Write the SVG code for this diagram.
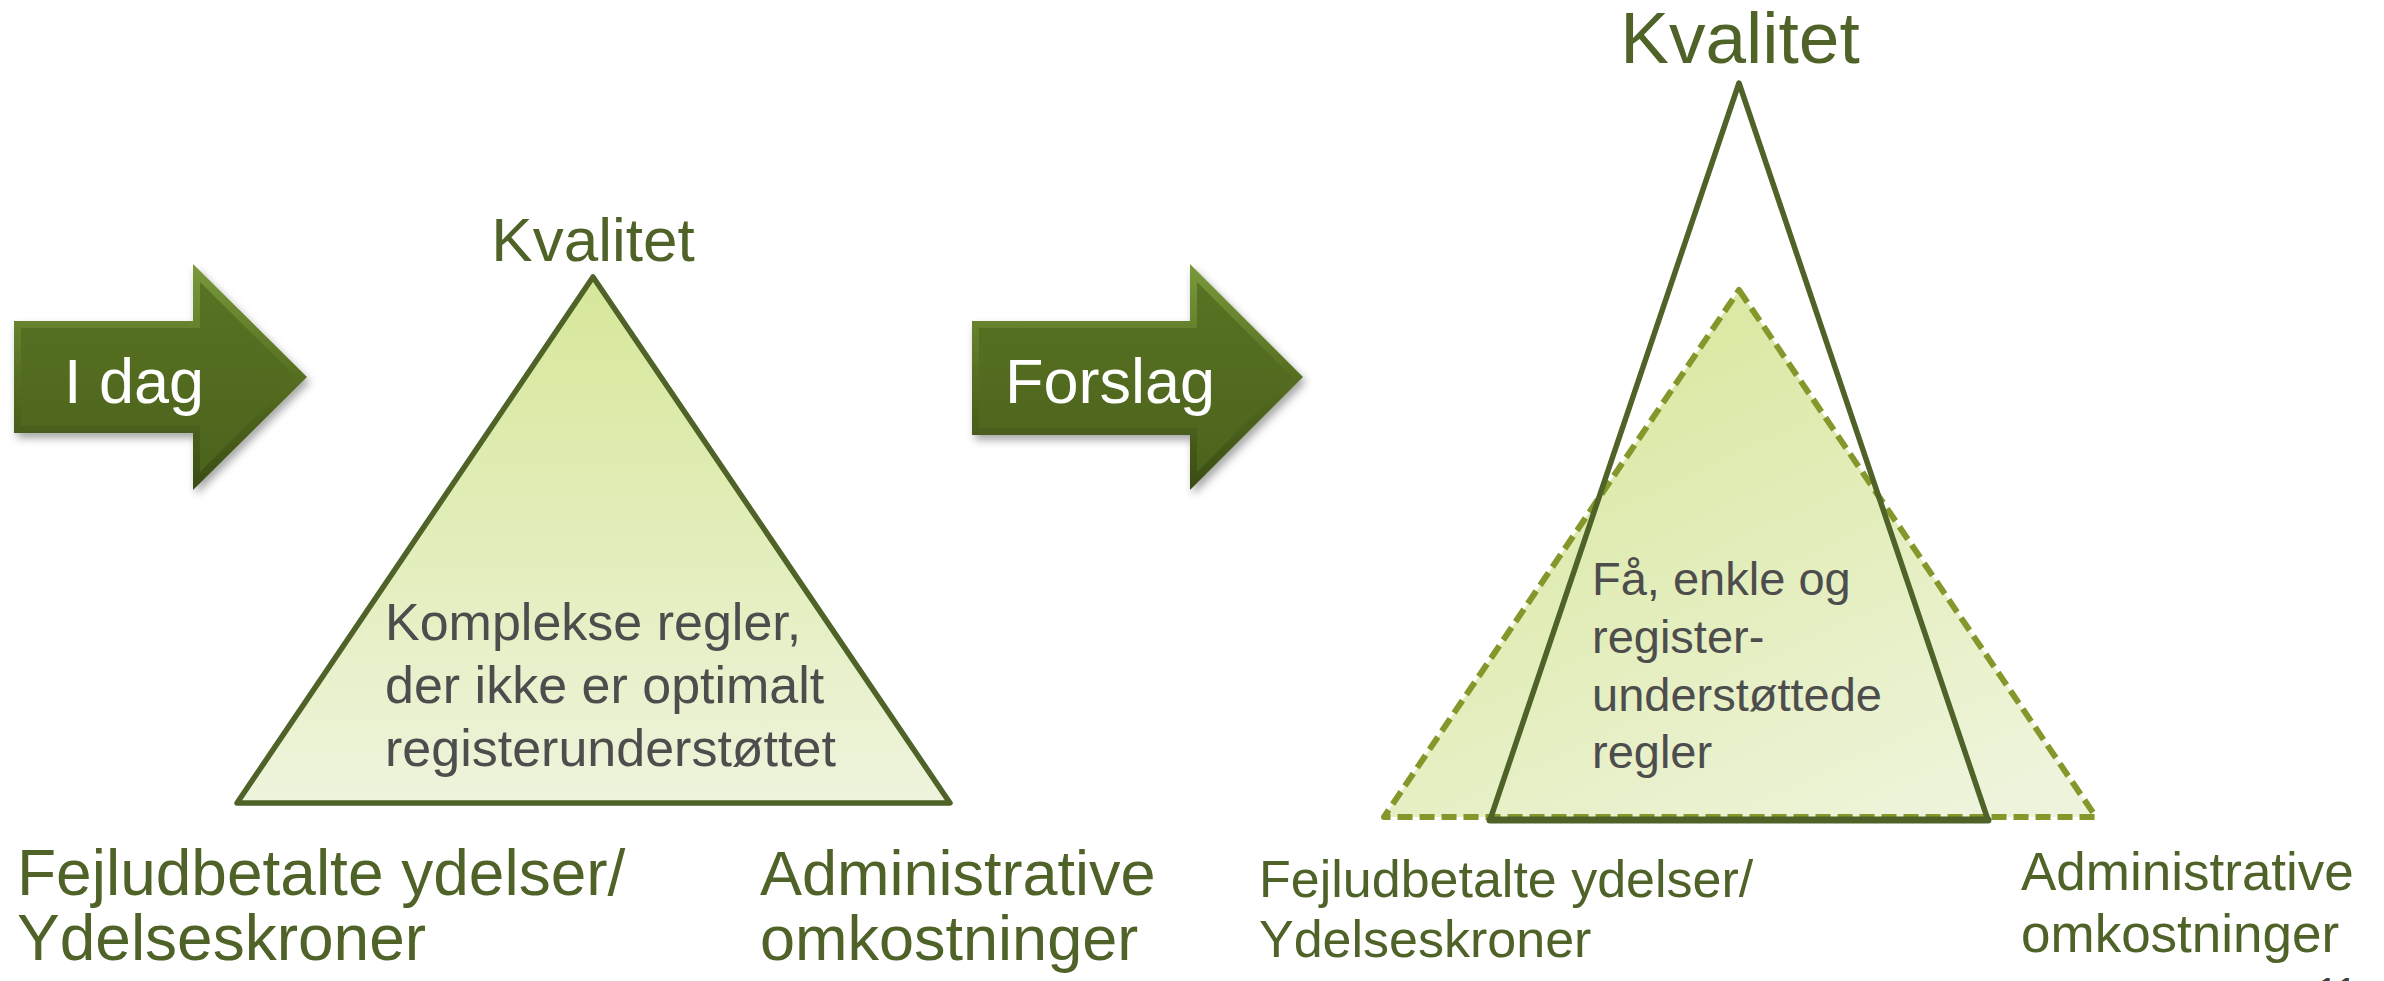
<svg xmlns="http://www.w3.org/2000/svg" width="2384" height="981" viewBox="0 0 2384 981">
  <style>
    text { font-family: "Liberation Sans", Arial, sans-serif; }
    .olive { fill: #4f6228; }
    .gray { fill: #4d4d4d; }
    .white { fill: #ffffff; }
    .solid { fill: none; stroke: #4f6228; stroke-width: 5.5; stroke-linejoin: round; }
    .dash { stroke: #83972a; stroke-width: 6; stroke-dasharray: 15 7; stroke-linejoin: round; }
  </style>
  <defs>
    <linearGradient id="triFill" x1="0" y1="0" x2="0" y2="1">
      <stop offset="0" stop-color="#d6e799"/>
      <stop offset="1" stop-color="#eef4dc"/>
    </linearGradient>
    <linearGradient id="triFill2" x1="0.3" y1="0.2" x2="0.8" y2="1">
      <stop offset="0" stop-color="#dbe9a6"/>
      <stop offset="1" stop-color="#eef4db"/>
    </linearGradient>
    <linearGradient id="arrowOuter" x1="0" y1="0" x2="0" y2="1">
      <stop offset="0" stop-color="#7a9a3c"/>
      <stop offset="0.5" stop-color="#566e21"/>
      <stop offset="1" stop-color="#3a4c14"/>
    </linearGradient>
    <linearGradient id="arrowInner" x1="0" y1="0" x2="0" y2="1">
      <stop offset="0" stop-color="#587323"/>
      <stop offset="1" stop-color="#4c631c"/>
    </linearGradient>
    <filter id="shadow" x="-10%" y="-10%" width="130%" height="130%">
      <feDropShadow dx="3" dy="5" stdDeviation="4" flood-color="#000000" flood-opacity="0.35"/>
    </filter>
  </defs>

  <g id="arrow-idag">
    <polygon points="14,321 193,321 193,264 307,377 193,490 193,433 14,433" fill="url(#arrowOuter)" filter="url(#shadow)"/>
    <polygon points="21,328 200,328 200,282 296,377 200,472 200,426 21,426" fill="url(#arrowInner)"/>
    <text x="64" y="403" font-size="63" class="white">I dag</text>
  </g>

  <g id="triangle-idag">
    <text x="593" y="261" font-size="62" text-anchor="middle" class="olive">Kvalitet</text>
    <polygon points="593,277 950,803 237,803" class="solid" style="fill:url(#triFill)"/>
    <text x="385" y="640" font-size="52" class="gray">Komplekse regler,</text>
    <text x="385" y="703" font-size="52" class="gray">der ikke er optimalt</text>
    <text x="385" y="766" font-size="52" class="gray">registerunderstøttet</text>
  </g>

  <g id="labels-idag">
    <text x="17" y="895" font-size="64" class="olive">Fejludbetalte ydelser/</text>
    <text x="17" y="960" font-size="64" class="olive">Ydelseskroner</text>
    <text x="760" y="895" font-size="63" class="olive">Administrative</text>
    <text x="760" y="960" font-size="63" class="olive">omkostninger</text>
  </g>

  <g id="arrow-forslag">
    <polygon points="972,321 1190,321 1190,264 1303,377 1190,490 1190,435 972,435" fill="url(#arrowOuter)" filter="url(#shadow)"/>
    <polygon points="979,328 1197,328 1197,282 1292,377 1197,472 1197,428 979,428" fill="url(#arrowInner)"/>
    <text x="1005" y="403" font-size="63" class="white">Forslag</text>
  </g>

  <g id="triangle-forslag">
    <text x="1740" y="63" font-size="73" text-anchor="middle" class="olive">Kvalitet</text>
    <polygon points="1739,290 2096,817 1384,817" fill="url(#triFill2)" class="dash"/>
    <polygon points="1739,83 1988,820 1490,820" class="solid"/>
    <line x1="1490" y1="820" x2="1988" y2="820" stroke="#4f6228" stroke-width="7" stroke-linecap="round"/>
    <text x="1592" y="595" font-size="47" class="gray">Få, enkle og</text>
    <text x="1592" y="653" font-size="47" class="gray">register-</text>
    <text x="1592" y="711" font-size="47" class="gray">understøttede</text>
    <text x="1592" y="768" font-size="47" class="gray">regler</text>
  </g>

  <g id="labels-forslag">
    <text x="1259" y="897" font-size="52" class="olive">Fejludbetalte ydelser/</text>
    <text x="1259" y="957" font-size="52" class="olive">Ydelseskroner</text>
    <text x="2021" y="890" font-size="53" class="olive">Administrative</text>
    <text x="2021" y="952" font-size="53" class="olive">omkostninger</text>
  </g>

  <g id="slide-number">
    <text x="2316" y="1006" font-size="40" fill="#404040">11</text>
  </g>

  <g id="connectors"/>
</svg>
